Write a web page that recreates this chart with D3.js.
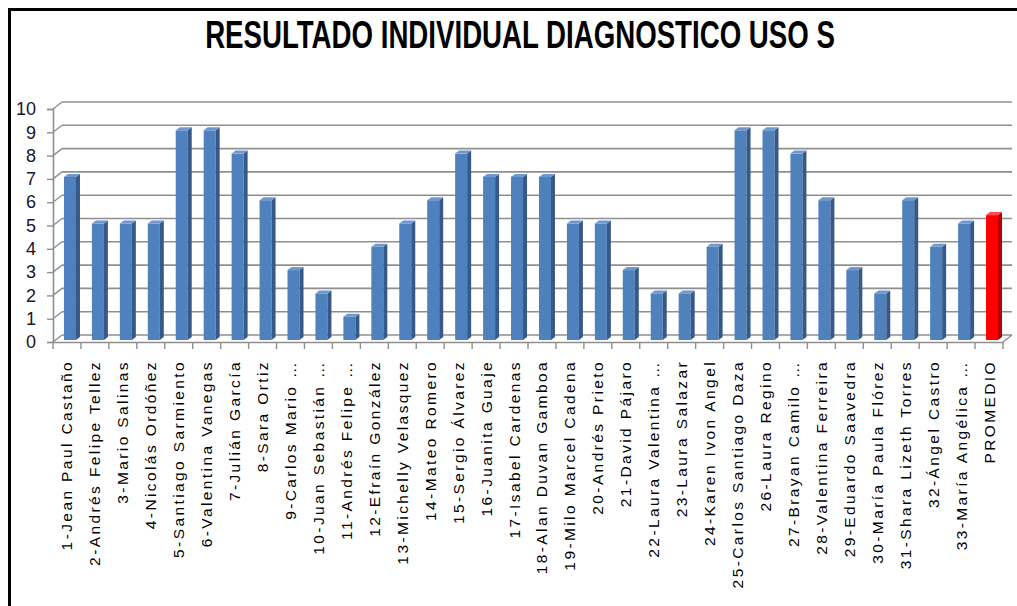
<!DOCTYPE html>
<html>
<head>
<meta charset="utf-8">
<script src="https://cdn.jsdelivr.net/npm/d3@7"></script>
<style>
  body { margin: 0; background: #fff; }
</style>
</head>
<body>
<div id="chart-area"></div>
<script>
// Resultado individual diagnostico - barras pseudo 3D

var width = 1017;
var height = 606;

var categories = [
    "1-Jean Paul Castaño", "2-Andrés Felipe Tellez", "3-Mario Salinas", "4-Nicolás Ordóñez",
    "5-Santiago Sarmiento", "6-Valentina Vanegas", "7-Julián García", "8-Sara Ortiz",
    "9-Carlos Mario …", "10-Juan Sebastián …", "11-Andrés Felipe …", "12-Efraín González",
    "13-Michelly Velasquez", "14-Mateo Romero", "15-Sergio Álvarez", "16-Juanita Guaje",
    "17-Isabel Cardenas", "18-Alan Duvan Gamboa", "19-Milo Marcel Cadena", "20-Andrés Prieto",
    "21-David Pájaro", "22-Laura Valentina …", "23-Laura Salazar", "24-Karen Ivon Angel",
    "25-Carlos Santiago  Daza", "26-Laura Regino", "27-Brayan Camilo …", "28-Valentina Ferreira",
    "29-Eduardo Saavedra", "30-María Paula Flórez", "31-Shara Lizeth Torres", "32-Ángel Castro",
    "33-María Angélica …", "PROMEDIO"
];

var values = [7, 5, 5, 5, 9, 9, 8, 6, 3, 2, 1, 4, 5, 6, 8, 7, 7, 7, 5, 5, 3, 2, 2, 4, 9, 9, 8, 6, 3, 2, 6, 4, 5, 5.36];

var yTicks = [0, 1, 2, 3, 4, 5, 6, 7, 8, 9, 10];

var title = "RESULTADO INDIVIDUAL DIAGNOSTICO USO S";

var data = categories.map(function(c, i) {
    return { name: c, value: values[i], avg: c === "PROMEDIO" };
});

// depth of the back wall
var dx = 9, dy = -7;

var svg = d3.select("#chart-area")
    .append("svg")
    .attr("width", width)
    .attr("height", height)
    .style("font-family", "Liberation Sans, Arial, sans-serif");

// frame
svg.append("path")
    .attr("d", "M9.5," + height + " V9.5 H" + width)
    .attr("fill", "none")
    .attr("stroke", "#000")
    .attr("stroke-width", 3);

// title, squeezed horizontally to the width of the original
var titleG = svg.append("g");
var titleText = titleG.append("text")
    .attr("x", 0)
    .attr("y", 0)
    .attr("text-anchor", "middle")
    .style("font-family", "'Liberation Sans Narrow', 'Liberation Sans', sans-serif")
    .style("font-weight", "bold")
    .style("font-size", "38px")
    .attr("fill", "#000")
    .text(title);
var tw = titleText.node().getComputedTextLength();
var sx = Math.min(1, 630 / tw);
titleG.attr("transform", "translate(520,48) scale(" + sx + ",1)");

var x = d3.scaleBand()
    .domain(categories)
    .range([53, 1003]);

var y = d3.scaleLinear()
    .domain([0, 10])
    .range([342, 109]);

// back wall grid
var grid = svg.append("g");
grid.selectAll("line.back")
    .data(yTicks)
    .enter()
    .append("line")
    .attr("x1", 53 + dx)
    .attr("x2", 1003 + dx)
    .attr("y1", function(d) { return y(d) + dy; })
    .attr("y2", function(d) { return y(d) + dy; })
    .attr("stroke", "#8f8f8f")
    .attr("stroke-width", 1.6);

grid.selectAll("line.diag")
    .data(yTicks)
    .enter()
    .append("line")
    .attr("x1", 53)
    .attr("x2", 53 + dx)
    .attr("y1", function(d) { return y(d); })
    .attr("y2", function(d) { return y(d) + dy; })
    .attr("stroke", "#8f8f8f")
    .attr("stroke-width", 1.4);

// floor right edge
grid.append("line")
    .attr("x1", 1003).attr("x2", 1003 + dx)
    .attr("y1", y(0)).attr("y2", y(0) + dy)
    .attr("stroke", "#8f8f8f")
    .attr("stroke-width", 1.4);

// bars
var bw = 12, sd = 4, td = 3;
var bars = svg.append("g").selectAll("g")
    .data(data)
    .enter()
    .append("g")
    .attr("transform", function(d) {
        return "translate(" + (x(d.name) + x.bandwidth() / 2 - 3) + ",0)";
    });

bars.append("rect")
    .attr("x", 0)
    .attr("y", function(d) { return y(d.value) - 2; })
    .attr("width", bw)
    .attr("height", function(d) { return y(0) - y(d.value); })
    .attr("fill", function(d) { return d.avg ? "#ff0000" : "#4f81bd"; });

bars.append("path")
    .attr("d", function(d) {
        var t = y(d.value) - 2, b = y(0) - 2;
        return "M" + bw + "," + t + " L" + (bw + sd) + "," + (t - td) +
            " L" + (bw + sd) + "," + (b - td) + " L" + bw + "," + b + "Z";
    })
    .attr("fill", function(d) { return d.avg ? "#b80000" : "#37598a"; });

bars.append("path")
    .attr("d", function(d) {
        var t = y(d.value) - 2;
        return "M0," + t + " L" + sd + "," + (t - td) + " L" + (bw + sd) + "," + (t - td) +
            " L" + bw + "," + t + "Z";
    })
    .attr("fill", function(d) { return d.avg ? "#ff4a4a" : "#6e98cf"; });

// front axes
var yAxis = d3.axisLeft(y).tickValues(yTicks).tickSize(6).tickFormat(d3.format("d"));
var gy = svg.append("g")
    .attr("transform", "translate(53,0)")
    .call(yAxis);
gy.select(".domain").attr("stroke", "#8f8f8f").attr("stroke-width", 1.6);
gy.selectAll(".tick line").attr("stroke", "#8f8f8f").attr("stroke-width", 1.4);
gy.selectAll(".tick text")
    .attr("x", -17)
    .style("font-size", "18px")
    .style("font-family", "'Liberation Sans Narrow', 'Liberation Sans', sans-serif")
    .attr("fill", "#15152e");

var xAxis = d3.axisBottom(x).tickSize(0).tickFormat("");
var gx = svg.append("g")
    .attr("transform", "translate(0," + y(0) + ")")
    .call(xAxis);
gx.select(".domain").attr("stroke", "#8f8f8f").attr("stroke-width", 1.6);

svg.append("g").selectAll("line")
    .data(categories.concat(["__end"]))
    .enter()
    .append("line")
    .attr("x1", function(d) { return d === "__end" ? 1003 : x(d); })
    .attr("x2", function(d) { return d === "__end" ? 1003 : x(d); })
    .attr("y1", y(0))
    .attr("y2", y(0) + 7)
    .attr("stroke", "#8f8f8f")
    .attr("stroke-width", 1.4);

// category labels
svg.append("g").selectAll("text")
    .data(data)
    .enter()
    .append("text")
    .attr("transform", function(d) {
        return "translate(" + (x(d.name) + x.bandwidth() / 2 + 5.5) + ",360) rotate(-90)";
    })
    .attr("text-anchor", "end")
    .style("font-size", "15.5px")
    .style("letter-spacing", "2.4px")
    .attr("fill", "#000")
    .text(function(d) { return d.name; });
</script>
</body>
</html>
